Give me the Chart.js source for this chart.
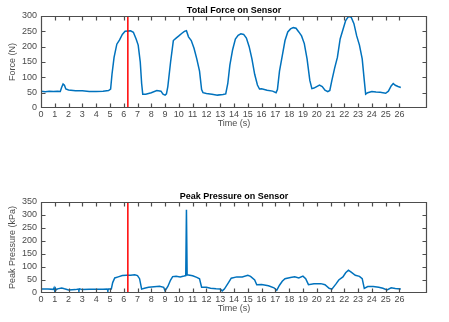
<!DOCTYPE html>
<html>
<head>
<meta charset="utf-8">
<script src="https://cdn.jsdelivr.net/npm/chart.js@4/dist/chart.umd.min.js"></script>
<style>
html,body{margin:0;padding:0;background:#fff;width:449px;height:322px;overflow:hidden;}
canvas{position:absolute;left:0;}
#c1{top:0;}
#c2{top:180px;}
</style>
</head>
<body>
<canvas id="c1" width="449" height="140"></canvas>
<canvas id="c2" width="449" height="140"></canvas>
<script>
// ---- data ----
const xTicks = [0,1,2,3,4,5,6,7,8,9,10,11,12,13,14,15,16,17,18,19,20,21,22,23,24,25,26];
const forceTicks = [0,50,100,150,200,250,300];
const pressureTicks = [0,50,100,150,200,250,300,350];
const markerTime = [6.3, 6.3];

const forceTime = [0,0.3,0.6,0.9,1.2,1.4,1.5,1.6,1.7,1.8,2.0,2.5,3.0,3.5,4.0,4.5,4.9,5.05,5.15,5.3,5.5,5.7,5.9,6.1,6.3,6.5,6.7,6.9,7.05,7.2,7.3,7.38,7.6,8.0,8.4,8.7,8.85,9.0,9.1,9.2,9.4,9.6,9.8,10.0,10.2,10.4,10.55,10.7,10.9,11.1,11.3,11.5,11.65,11.75,12.0,12.4,12.8,13.2,13.4,13.55,13.7,13.9,14.1,14.3,14.5,14.7,14.9,15.1,15.3,15.5,15.7,15.85,16.0,16.4,16.8,17.05,17.15,17.3,17.5,17.7,17.9,18.1,18.3,18.5,18.7,18.9,19.1,19.3,19.5,19.65,19.8,20.0,20.2,20.4,20.6,20.8,20.95,21.1,21.3,21.5,21.7,21.9,22.1,22.3,22.5,22.7,22.9,23.1,23.3,23.45,23.55,23.7,24.0,24.3,24.6,25.0,25.2,25.4,25.55,25.7,25.9,26.1];
const forceValues = [55,53,55,54,55,54,68,78,74,62,59,56,56,54,54,55,57,62,110,165,208,222,240,250,251,252,247,225,205,150,80,45,45,50,57,55,45,42,46,70,150,220,228,235,243,250,252,232,220,195,160,120,60,50,47,45,42,44,46,80,140,190,225,237,242,240,228,200,160,110,75,62,63,58,55,50,60,120,170,220,248,258,262,260,248,235,210,160,90,63,65,70,75,70,58,53,57,90,130,165,225,255,285,298,296,275,235,205,160,90,45,50,54,52,51,48,55,72,80,74,70,67];

const pressureTime = [0,0.5,0.9,0.95,1.0,1.05,1.1,1.2,1.5,1.7,2.0,2.5,2.7,2.75,2.8,3.0,3.5,4.0,4.5,4.8,4.85,4.9,5.1,5.2,5.35,5.6,5.9,6.2,6.5,6.8,7.0,7.15,7.3,7.5,7.8,8.2,8.6,8.9,9.0,9.2,9.4,9.55,9.8,10.1,10.3,10.5,10.55,10.6,10.8,11.0,11.3,11.5,11.65,12.0,12.3,12.7,13.0,13.15,13.3,13.6,13.8,14.2,14.6,15.0,15.2,15.5,15.65,16.0,16.5,16.9,17.1,17.3,17.5,17.7,18.1,18.4,18.7,19.0,19.2,19.4,19.8,20.3,20.6,20.9,21.1,21.4,21.6,21.9,22.1,22.3,22.5,22.8,23.1,23.3,23.45,23.7,24.1,24.5,24.8,25.1,25.4,25.7,26.1];
const pressureValues = [15,15,14,20,10,18,12,16,19,16,12,13,15,10,16,13,14,14,14,15,10,15,15,40,58,62,67,68,68,70,67,55,15,18,22,24,26,22,8,25,50,63,64,62,64,67,320,70,68,66,60,55,22,22,18,16,15,8,15,40,57,62,62,68,64,50,32,33,28,20,10,30,45,55,60,62,58,65,55,32,36,36,32,18,15,35,50,62,78,88,80,68,64,55,18,25,25,22,18,12,20,17,15];

// ---- styling helpers ----
const FONT = '"Liberation Sans", Arial, Helvetica, sans-serif';
const AXIS = '#4d4d4d';
const TICKTXT = '#4a4a4a';

const framePlugin = {
  id: 'frame',
  afterDraw(chart, args, opts) {
    const ctx = chart.ctx, a = chart.chartArea;
    const xs = chart.scales.x, ys = chart.scales.y;
    ctx.save();
    ctx.setLineDash([]);
    ctx.strokeStyle = AXIS;
    ctx.lineWidth = 1.2;
    const L = Math.round(a.left) + 0.5, R = Math.round(a.right) - 0.5;
    const T = Math.round(a.top) + 0.5, B = Math.round(a.bottom) - 0.5;
    ctx.beginPath();
    ctx.moveTo(L, T); ctx.lineTo(R, T); ctx.lineTo(R, B); ctx.lineTo(L, B); ctx.closePath();
    xs.ticks.forEach(t => {
      const px = Math.round(xs.getPixelForValue(t.value)) + 0.5;
      ctx.moveTo(px, B); ctx.lineTo(px, B - 4);
      ctx.moveTo(px, T); ctx.lineTo(px, T + 4);
    });
    ys.ticks.forEach(t => {
      const py = Math.min(Math.round(ys.getPixelForValue(t.value)) + 0.5, B);
      ctx.moveTo(L, py); ctx.lineTo(L + 4, py);
      ctx.moveTo(R, py); ctx.lineTo(R - 4, py);
    });
    ctx.stroke();
    ctx.fillStyle = '#000';
    ctx.font = 'bold 9px ' + FONT;
    ctx.textAlign = 'center';
    ctx.textBaseline = 'middle';
    ctx.fillText(opts.text, (a.left + a.right) / 2, a.top - 5);
    ctx.restore();
  }
};

function makeChart(id, times, values, yTicks, yMax, title, yTitle, padTop, xHeight, xTitlePad) {
  const series = times.map((t, i) => ({x: t, y: values[i]}));
  const marker = markerTime.map((t, i) => ({x: t, y: i === 0 ? 0 : yMax}));
  return new Chart(document.getElementById(id), {
    type: 'line',
    data: {
      datasets: [
        {data: marker, borderColor: '#ff0000', borderWidth: 1.5, pointRadius: 0, tension: 0},
        {data: series, borderColor: '#0072BD', borderWidth: 1.5, pointRadius: 0, tension: 0}
      ]
    },
    options: {
      responsive: false,
      animation: false,
      events: [],
      layout: {padding: {left: 0, right: 22, top: padTop, bottom: 0}},
      plugins: {legend: {display: false}, tooltip: {enabled: false}, frame: {text: title}},
      scales: {
        x: {
          type: 'linear', min: 0, max: 28,
          afterBuildTicks: s => { s.ticks = xTicks.map(v => ({value: v})); },
          afterFit: s => { s.height = xHeight; },
          grid: {display: false, drawTicks: false},
          border: {display: false},
          ticks: {color: TICKTXT, font: {family: FONT, size: 9}, padding: 1, maxRotation: 0, autoSkip: false},
          title: {display: true, text: 'Time (s)', color: AXIS, font: {family: FONT, size: 9}, padding: {top: 0, bottom: xTitlePad}}
        },
        y: {
          type: 'linear', min: 0, max: yMax,
          afterBuildTicks: s => { s.ticks = yTicks.map(v => ({value: v})); },
          afterFit: s => { s.width = 41; },
          grid: {display: false, drawTicks: false},
          border: {display: false},
          ticks: {color: TICKTXT, font: {family: FONT, size: 9}, padding: 4, autoSkip: false},
          title: {display: true, text: yTitle, color: AXIS, font: {family: FONT, size: 9}, padding: {top: 7.5, bottom: 0}}
        }
      }
    },
    plugins: [framePlugin]
  });
}

makeChart('c1', forceTime, forceValues, forceTicks, 300, 'Total Force on Sensor', 'Force (N)', 16, 32, 11.5);
makeChart('c2', pressureTime, pressureValues, pressureTicks, 350, 'Peak Pressure on Sensor', 'Peak Pressure (kPa)', 22, 27, 6.5);
</script>
</body>
</html>
